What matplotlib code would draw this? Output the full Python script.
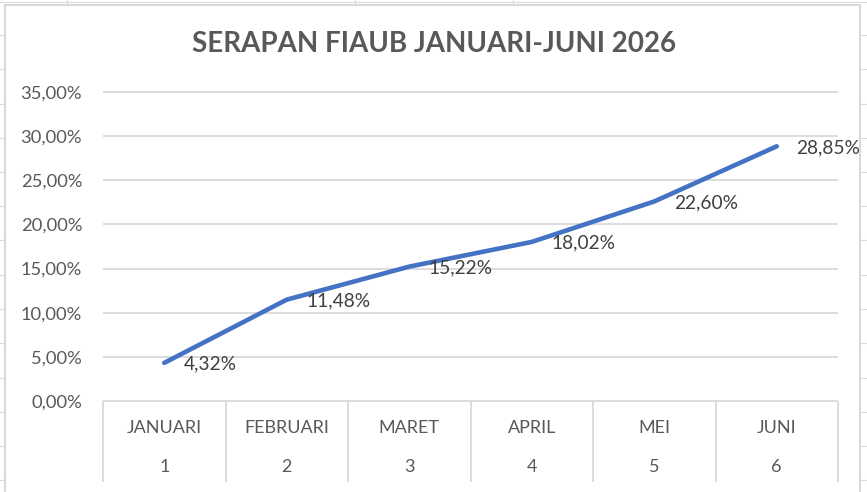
import matplotlib
matplotlib.use("Agg")
import matplotlib.pyplot as plt
from matplotlib.transforms import blended_transform_factory
from matplotlib.lines import Line2D
from matplotlib.patches import Rectangle

# ---- data ----
title = "SERAPAN FIAUB JANUARI-JUNI 2026"
months = ["JANUARI", "FEBRUARI", "MARET", "APRIL", "MEI", "JUNI"]
month_nums = ["1", "2", "3", "4", "5", "6"]
values = [4.32, 11.48, 15.22, 18.02, 22.60, 28.85]
value_labels = ["4,32%", "11,48%", "15,22%", "18,02%", "22,60%", "28,85%"]
yticks = [0, 5, 10, 15, 20, 25, 30, 35]
ytick_labels = ["0,00%", "5,00%", "10,00%", "15,00%", "20,00%", "25,00%", "30,00%", "35,00%"]

plt.rcParams['font.family'] = ['Lato', 'DejaVu Sans']

W, H = 867, 492
fig = plt.figure(figsize=(W / 100, H / 100), dpi=100)
fig.patch.set_facecolor("white")

def fx(px):
    return px / W

def fy(py):
    return 1 - py / H

# spreadsheet background grid
sheet_col = "#dcdcdc"
rows = [2] + [35 + 34.25 * k for k in range(14)]
for y in rows:
    fig.add_artist(Line2D([0, 1], [fy(y), fy(y)], color=sheet_col, lw=0.8, zorder=-3))
for x in [67, 355, 513]:
    fig.add_artist(Line2D([fx(x), fx(x)], [1, fy(6)], color=sheet_col, lw=0.8, zorder=-3))

# chart area
fig.add_artist(Rectangle((fx(5), fy(520)), fx(860) - fx(5), fy(5) - fy(520),
                         facecolor="white", edgecolor="#d9d9d9", lw=1.5, zorder=-2))

ax = fig.add_axes([fx(103), fy(401), fx(838) - fx(103), (401 - 92) / H])
ax.patch.set_alpha(0)
xs = list(range(1, len(months) + 1))
ax.set_xlim(0.5, len(months) + 0.5)
ax.set_ylim(0, 35)
for s in ax.spines.values():
    s.set_visible(False)

grid_col = "#d9d9d9"
ax.hlines(yticks, 0.5, len(months) + 0.5, color=grid_col, lw=1.3, clip_on=False, zorder=1)

ax.set_yticks(yticks)
ax.set_yticklabels(ytick_labels)
ax.tick_params(axis='y', length=0, pad=15, labelsize=13.2, labelcolor="#595959")
ax.set_xticks([])

ax.plot(xs, values, color="#4472C4", lw=3.3, solid_capstyle="round", zorder=3, clip_on=False)

for x, v, lab in zip(xs, values, value_labels):
    ax.annotate(lab, (x, v), xytext=(14, -1), textcoords="offset points",
                ha="left", va="center", fontsize=13.8, color="#404040", zorder=4)

# multi-level category axis
bt = blended_transform_factory(ax.transData, fig.transFigure)
bounds = [i + 0.5 for i in range(len(months) + 1)]
ax.vlines(bounds, fy(482), fy(401), transform=bt, color=grid_col, lw=1.3, clip_on=False)
for x, m, n in zip(xs, months, month_nums):
    ax.text(x, fy(428), m, transform=bt, ha="center", va="center", fontsize=13, color="#595959")
    ax.text(x, fy(467), n, transform=bt, ha="center", va="center", fontsize=13, color="#595959")

fig.text(fx(434), fy(44), title, ha="center", va="center", fontsize=20,
         fontweight="bold", color="#595959")

fig.savefig("out.png", dpi=100)
